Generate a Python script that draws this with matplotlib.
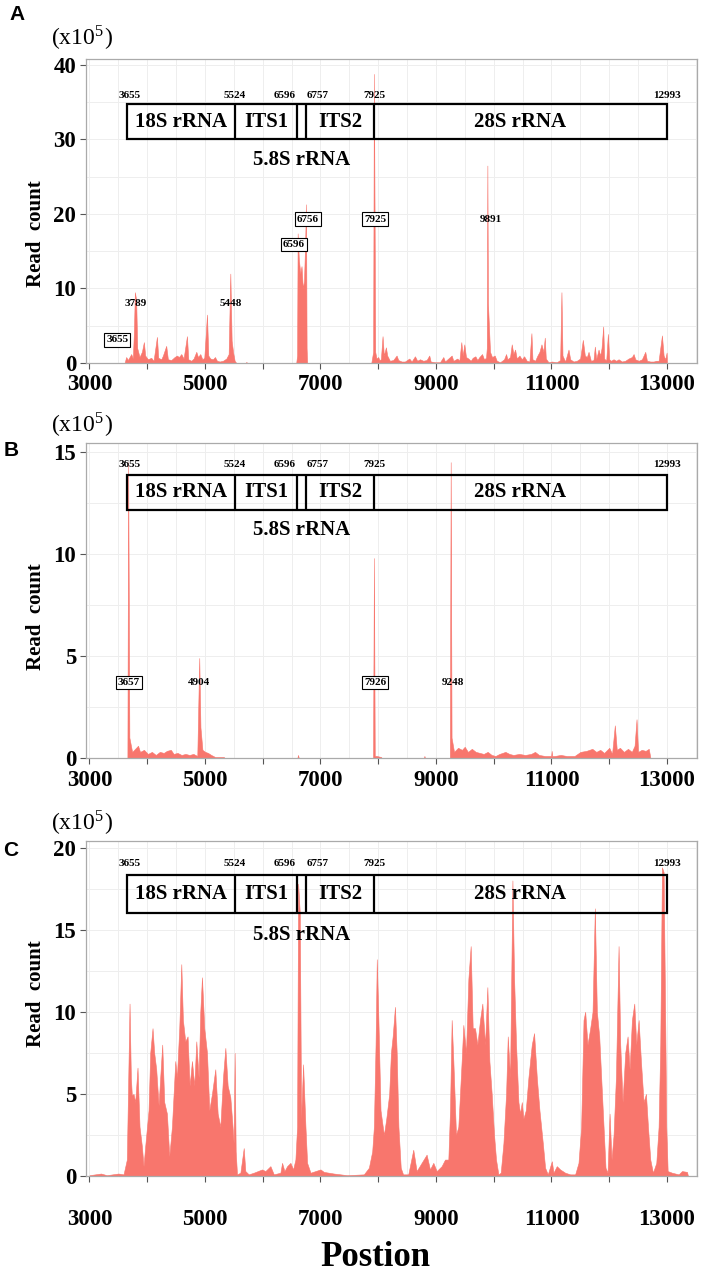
import matplotlib
matplotlib.use('Agg')
import matplotlib.pyplot as plt
from matplotlib.patches import Rectangle
from matplotlib.ticker import MultipleLocator
import numpy as np

plt.rcParams['font.family'] = ['Liberation Serif', 'DejaVu Serif']
plt.rcParams['font.weight'] = 'bold'
plt.rcParams['mathtext.fontset'] = 'stix'

# read counts (x10^5) along the rDNA unit
a_pos = [3600, 3607, 3636, 3665, 3694, 3723, 3751, 3769, 3786, 3809, 3827, 3867, 3908, 3942, 3965,
         4012, 4069, 4110, 4168, 4191, 4243, 4272, 4329, 4358, 4416, 4474, 4514, 4549, 4590, 4630,
         4688, 4711, 4763, 4803, 4850, 4879, 4919, 4954, 4988, 5035, 5058, 5092, 5139, 5173, 5208,
         5254, 5312, 5370, 5410, 5439, 5462, 5486, 5514, 5543, 5705, 5717, 5730, 6580, 6595, 6605,
         6625, 6650, 6672, 6695, 6715, 6734, 6750, 6760, 6770, 7880, 7912, 7925, 7937, 7948, 7970,
         8000, 8020, 8046, 8075, 8098, 8133, 8156, 8202, 8260, 8318, 8347, 8405, 8462, 8538, 8578,
         8636, 8676, 8723, 8780, 8838, 8884, 8908, 8983, 9069, 9127, 9156, 9214, 9272, 9301, 9370,
         9405, 9439, 9462, 9491, 9520, 9561, 9601, 9636, 9682, 9717, 9751, 9798, 9832, 9867, 9880,
         9890, 9900, 9936, 9971, 10017, 10052, 10110, 10179, 10214, 10237, 10283, 10312, 10341, 10370,
         10399, 10445, 10486, 10526, 10572, 10618, 10653, 10671, 10717, 10757, 10792, 10827, 10861,
         10884, 10902, 10948, 11006, 11092, 11150, 11173, 11191, 11237, 11295, 11324, 11382, 11439,
         11497, 11543, 11578, 11613, 11642, 11682, 11728, 11751, 11775, 11815, 11844, 11867, 11896,
         11913, 11948, 11977, 12000, 12029, 12075, 12121, 12162, 12220, 12277, 12335, 12393, 12422,
         12451, 12509, 12566, 12624, 12653, 12711, 12769, 12815, 12855, 12913, 12942, 12971, 12994,
         13000]
a_val = [0.0, 0.0, 0.8, 0.4, 0.8, 1.2, 0.6, 4.0, 9.5, 8.5, 2.0, 0.8, 1.5, 2.8, 1.0,
         0.5, 0.7, 0.3, 3.5, 0.7, 0.5, 1.0, 2.3, 0.5, 0.4, 0.8, 1.0, 0.8, 1.2, 0.6,
         3.6, 0.5, 0.3, 0.6, 1.5, 0.8, 1.2, 0.5, 0.7, 6.5, 1.0, 0.6, 0.5, 0.8, 0.3,
         0.2, 0.3, 0.6, 1.2, 12.0, 3.0, 1.5, 0.3, 0.0, 0.0, 0.15, 0.0, 0.0, 1.0, 17.4,
         14.0, 12.0, 13.0, 10.0, 11.0, 16.0, 21.3, 2.0, 0.0, 0.0, 1.5, 38.8, 20.0, 1.5, 0.6,
         0.8, 0.4, 0.5, 3.6, 1.0, 2.1, 1.0, 0.3, 0.4, 1.0, 0.4, 0.2, 0.2, 0.6, 0.2,
         0.9, 0.3, 0.5, 0.3, 0.4, 1.0, 0.2, 0.1, 0.1, 0.8, 0.2, 0.6, 1.0, 0.3, 0.6,
         0.3, 2.8, 1.0, 2.5, 0.8, 0.6, 0.3, 0.7, 0.9, 0.4, 0.8, 1.2, 0.5, 0.7, 2.0,
         26.5, 8.0, 1.5, 0.8, 1.0, 0.3, 0.1, 0.5, 1.2, 0.5, 0.8, 2.5, 1.2, 1.8,
         0.6, 1.0, 0.5, 0.9, 0.3, 0.2, 4.0, 0.5, 0.3, 1.0, 1.5, 2.5, 1.5,
         3.4, 0.6, 0.1, 0.2, 0.1, 0.4, 9.5, 1.0, 0.2, 1.8, 0.5, 0.2, 0.3,
         0.6, 3.1, 1.0, 0.8, 1.5, 0.3, 0.4, 2.2, 0.5, 1.8, 1.0, 2.0, 4.9,
         0.6, 0.3, 3.9, 0.5, 0.3, 0.5, 0.3, 0.5, 0.2, 0.3, 0.6, 0.8, 1.2,
         0.5, 0.3, 0.5, 1.5, 0.3, 0.2, 0.2, 0.3, 0.3, 3.7, 1.0, 0.5, 1.4,
         0.0]

b_pos = [3650, 3657, 3670, 3691, 3739, 3807, 3841, 3876, 3944, 4012, 4081, 4149, 4218, 4286, 4341,
         4409, 4457, 4525, 4594, 4662, 4731, 4799, 4867, 4901, 4922, 4956, 5004, 5052, 5107, 5175,
         5326, 5339, 6600, 6611, 6625, 7910, 7926, 7940, 7970, 8050, 8060, 8790, 8800, 8810, 9240,
         9255, 9270, 9313, 9382, 9450, 9498, 9553, 9621, 9689, 9758, 9826, 9895, 9963, 10031, 10100,
         10202, 10271, 10339, 10442, 10544, 10647, 10715, 10784, 10886, 10995, 11003, 11012, 11057,
         11160, 11263, 11400, 11502, 11605, 11707, 11776, 11844, 11912, 12001, 12049, 12097, 12131,
         12186, 12254, 12325, 12391, 12439, 12473, 12500, 12562, 12630, 12685, 12713]
b_val = [0.0, 0.0, 14.5, 1.0, 0.3, 0.5, 0.6, 0.3, 0.4, 0.2, 0.3, 0.15, 0.3, 0.25, 0.35,
         0.4, 0.2, 0.25, 0.15, 0.2, 0.15, 0.2, 0.1, 4.9, 1.5, 0.4, 0.3, 0.25, 0.15, 0.05,
         0.05, 0.0, 0.0, 0.15, 0.0, 0.0, 9.8, 0.1, 0.1, 0.05, 0.0, 0.0, 0.1, 0.0, 0.0,
         14.5, 1.0, 0.3, 0.5, 0.4, 0.55, 0.3, 0.45, 0.3, 0.25, 0.2, 0.3, 0.15, 0.1, 0.2,
         0.3, 0.2, 0.15, 0.2, 0.15, 0.2, 0.3, 0.15, 0.1, 0.1, 0.35, 0.1, 0.1,
         0.15, 0.1, 0.1, 0.3, 0.35, 0.45, 0.3, 0.4, 0.25, 0.5, 0.2, 1.6, 0.4,
         0.5, 0.3, 0.45, 0.3, 0.6, 1.9, 0.3, 0.4, 0.35, 0.45, 0.0]

c_pos = [3000, 3100, 3200, 3300, 3400, 3500, 3590, 3647, 3694, 3717, 3734, 3763, 3792, 3832, 3867,
         3908, 3936, 3965, 4023, 4052, 4092, 4121, 4156, 4197, 4225, 4260, 4295, 4341, 4382, 4428,
         4486, 4514, 4555, 4590, 4618, 4659, 4699, 4734, 4775, 4815, 4850, 4890, 4919, 4948, 4988,
         5035, 5075, 5121, 5179, 5220, 5266, 5312, 5353, 5393, 5439, 5474, 5497, 5514, 5532, 5555,
         5613, 5671, 5699, 5757, 5844, 5988, 6046, 6133, 6191, 6306, 6335, 6376, 6422, 6480, 6526,
         6566, 6595, 6613, 6642, 6665, 6699, 6740, 6769, 6827, 7000, 7058, 7231, 7462, 7751, 7838,
         7896, 7925, 7954, 7975, 8000, 8040, 8098, 8140, 8190, 8220, 8250, 8290, 8320, 8350, 8390,
         8430, 8520, 8607, 8665, 8751, 8838, 8896, 8954, 9012, 9098, 9156, 9214, 9243, 9272, 9301,
         9347, 9387, 9445, 9474, 9520, 9561, 9601, 9636, 9676, 9717, 9763, 9803, 9850, 9890, 9925,
         9965, 10006, 10040, 10081, 10121, 10168, 10214, 10243, 10283, 10324, 10353, 10387, 10428,
         10457, 10486, 10514, 10555, 10601, 10659, 10699, 10746, 10792, 10850, 10890, 10936, 11006,
         11035, 11092, 11150, 11237, 11324, 11410, 11468, 11514, 11555, 11584, 11624, 11671, 11711,
         11751, 11786, 11827, 11861, 11902, 11936, 11971, 12006, 12040, 12075, 12116, 12162, 12191,
         12231, 12277, 12318, 12353, 12393, 12434, 12468, 12509, 12549, 12595, 12636, 12671, 12711,
         12757, 12815, 12855, 12884, 12913, 12942, 12971, 12988, 13012, 13087, 13202, 13260, 13347,
         13364]
c_val = [0.05, 0.1, 0.15, 0.05, 0.1, 0.15, 0.1, 1.0, 10.5, 6.0, 4.9, 5.0, 4.5, 6.6, 3.0,
         1.8, 0.6, 1.8, 4.0, 7.5, 9.0, 7.5, 6.5, 4.3, 6.0, 8.0, 4.5, 3.8, 1.2, 3.0,
         7.0, 6.0, 9.0, 12.9, 9.5, 8.2, 8.5, 5.5, 7.0, 5.5, 8.2, 6.0, 10.0, 12.1, 9.0,
         7.5, 4.0, 5.0, 6.5, 3.8, 3.0, 6.0, 7.8, 5.5, 4.8, 3.2, 2.0, 7.5, 1.5, 0.1,
         0.2, 1.7, 0.3, 0.1, 0.2, 0.4, 0.3, 0.6, 0.1, 0.2, 0.8, 0.3, 0.6, 0.8, 0.4,
         1.0, 3.0, 17.8, 16.0, 3.5, 6.8, 3.0, 0.8, 0.2, 0.4, 0.25, 0.15, 0.05, 0.1, 0.5,
         1.5, 3.0, 8.0, 13.2, 10.0, 4.0, 2.5, 3.5, 5.0, 7.5, 8.5, 10.3, 7.5, 3.0, 0.5,
         0.1, 0.1, 1.6, 0.3, 0.8, 1.3, 0.4, 0.8, 0.3, 0.6, 1.0, 1.0, 4.0, 9.5, 7.0,
         2.5, 3.0, 7.0, 9.2, 7.5, 12.0, 14.0, 9.0, 9.0, 8.0, 9.5, 10.5, 8.0, 11.5, 7.0,
         5.0, 2.5, 1.0, 0.1, 0.2, 2.0, 5.0, 8.5, 6.0, 18.0, 12.0, 8.0, 4.5,
         3.8, 4.5, 3.5, 4.0, 6.0, 8.0, 8.7, 6.0, 4.0, 2.0, 0.5, 0.1, 0.9,
         0.2, 0.6, 0.4, 0.2, 0.1, 0.1, 0.8, 3.0, 9.5, 10.0, 8.0, 9.0, 10.0,
         16.3, 10.0, 8.5, 6.0, 3.0, 0.5, 0.2, 3.8, 1.0, 2.5, 6.0, 14.0, 8.0,
         4.5, 7.5, 8.5, 6.5, 9.5, 10.5, 8.0, 9.5, 7.0, 4.5, 5.0, 3.0, 1.0,
         0.2, 0.8, 3.0, 8.0, 18.8, 18.5, 9.0, 3.0, 0.3, 0.2, 0.1, 0.3, 0.25,
         0.0]

# rRNA gene structure
feat_bounds = [3655, 5524, 6596, 6757, 7925, 12993]
feat_names = ['18S rRNA', 'ITS1', '', 'ITS2', '28S rRNA']

# labelled peaks: text, boxed?
a_peaks = ['3655', '3789', '5448', '6596', '6756', '7925', '9891']
a_boxed = [True, False, False, True, True, True, False]
b_peaks = ['3657', '4904', '7926', '9248']
b_boxed = [True, False, True, False]

RED = '#F8766D'
W, H = 702, 1274


def draw_panel(rect, pos, val, ytop, yticks, gstep, box, lab_y, s58_y, xpad):
    ax = fig.add_axes(rect)
    ax.fill_between(pos, val, 0, color=RED, lw=0.4, edgecolor=RED, zorder=2)
    ax.set_xlim(2940, 13520)
    ax.set_ylim(0, ytop)
    ax.set_xticks(np.arange(3000, 13001, 1000))
    ax.set_xticklabels([str(v) if (v - 3000) % 2000 == 0 else '' for v in range(3000, 13001, 1000)])
    ax.set_yticks(yticks)
    ax.xaxis.set_minor_locator(MultipleLocator(500))
    ax.yaxis.set_minor_locator(MultipleLocator(gstep))
    ax.grid(which='both', color='#EEEEEE', lw=0.7, zorder=0)
    ax.set_axisbelow(True)
    ax.tick_params(which='major', length=4, width=0.8, color='#555555', labelsize=16.5)
    ax.tick_params(axis='x', pad=xpad)
    ax.tick_params(axis='y', pad=3)
    ax.tick_params(which='minor', length=0)
    for s in ax.spines.values():
        s.set_color('#AAAAAA')
        s.set_linewidth(0.9)
    # gene box
    y0, y1 = box
    ax.add_patch(Rectangle((feat_bounds[0], y0), feat_bounds[-1] - feat_bounds[0], y1 - y0,
                           fill=False, ec='black', lw=1.6, zorder=4))
    ax.vlines(feat_bounds[1:-1], y0, y1, colors='black', lw=1.6, zorder=4)
    for i, name in enumerate(feat_names):
        if name:
            ax.text((feat_bounds[i] + feat_bounds[i + 1]) / 2, (y0 + y1) / 2, name,
                    ha='center', va='center', fontsize=15, zorder=5)
    offs = [40, -10, -220, 190, 10, 10]
    for b, o in zip(feat_bounds, offs):
        ax.text(b + o, lab_y, str(b), ha='center', va='center', fontsize=8, zorder=5)
    ax.text((feat_bounds[2] + feat_bounds[3]) / 2, s58_y, '5.8S rRNA',
            ha='center', va='center', fontsize=15, zorder=5)
    return ax


def peak_labels(ax, labels, boxed, xs, ys):
    for t, bx, x, y in zip(labels, boxed, xs, ys):
        kw = {}
        if bx:
            kw['bbox'] = dict(boxstyle='square,pad=0.2', fc='white', ec='black', lw=0.8)
        ax.text(x, y, t, ha='center', va='center', fontsize=8, zorder=6, **kw)


fig = plt.figure(figsize=(W / 100, H / 100), dpi=100)

def frect(left, top, right, bottom):
    return [left / W, 1 - bottom / H, (right - left) / W, (bottom - top) / H]

axA = draw_panel(frect(86, 59, 697, 363), a_pos, a_val, 40.8, [0, 10, 20, 30, 40], 5,
                 (30.0, 34.7), 35.9, 27.2, 4)
peak_labels(axA, a_peaks, a_boxed, [3480, 3800, 5442, 6543, 6783, 7946, 9953],
            [3.1, 8.0, 8.0, 15.9, 19.3, 19.3, 19.3])

axB = draw_panel(frect(86, 443, 697, 758), b_pos, b_val, 15.44, [0, 5, 10, 15], 2.5,
                 (12.16, 13.87), 14.4, 11.2, 5)
peak_labels(axB, b_peaks, b_boxed, [3682, 4899, 7946, 9295], [3.7, 3.7, 3.7, 3.7])

axC = draw_panel(frect(86, 841, 697, 1176), c_pos, c_val, 20.4, [0, 5, 10, 15, 20], 2.5,
                 (16.0, 18.3), 19.0, 14.7, 20)

for lab, ly, sy, ry in [('A', 14, 38, 234), ('B', 450, 425, 617), ('C', 850, 823, 994)]:
    fig.text((17 if lab == 'A' else 11) / W, 1 - ly / H, lab, family='Liberation Sans',
             fontweight='bold', fontsize=15, ha='center', va='center')
    fig.text(82 / W, 1 - sy / H, r'(x10$^{\mathregular{5}}$)', fontweight='normal', fontsize=17,
             ha='center', va='center')
    fig.text(36 / W, 1 - ry / H, 'Read  count', rotation=90, fontsize=15,
             ha='center', va='center')

fig.text(375 / W, 1 - 1258 / H, 'Postion', fontsize=25, ha='center', va='center')

fig.savefig('out.png', dpi=100)
